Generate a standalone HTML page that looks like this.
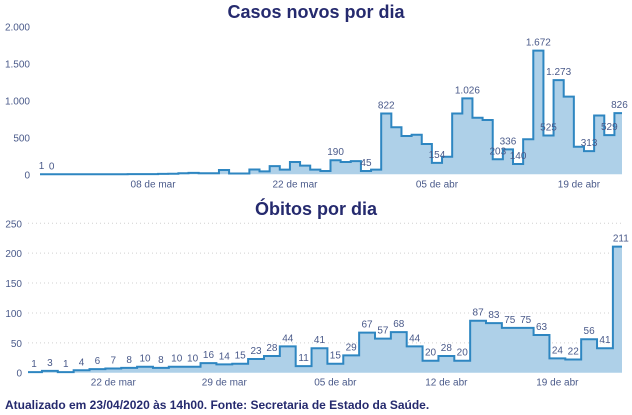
<!DOCTYPE html>
<html><head><meta charset="utf-8"><style>
html,body{margin:0;padding:0;background:#fff;}
svg{display:block;font-family:"Liberation Sans",sans-serif;}
</style></head><body>
<svg id="c" width="632" height="415" viewBox="0 0 632 415">
<defs>
<clipPath id="clipTop"><rect x="40" y="20" width="582" height="160"/></clipPath>
<clipPath id="clipBot"><rect x="28" y="215" width="594" height="160"/></clipPath>
</defs>
<text x="316" y="18" text-anchor="middle" font-size="18" font-weight="bold" fill="#252a6e">Casos novos por dia</text>
<text x="316" y="215" text-anchor="middle" font-size="18" font-weight="bold" fill="#252a6e">Óbitos por dia</text>
<text x="5" y="409" font-size="12" font-weight="bold" fill="#252a6e">Atualizado em 23/04/2020 às 14h00. Fonte: Secretaria de Estado da Saúde.</text>
<g id="top"></g>
<g id="bot"></g>
</svg>
<script>
// Casos novos por dia, 26 fev .. 23 abr
const caseValues = [1,0,0,0,0,0,0,0,0,2,3,3,5,8,15,20,15,15,58,10,10,65,40,110,63,167,117,63,45,190,167,178,45,63,
822,635,518,535,410,154,238,822,1026,765,733,203,336,140,473,1672,525,1273,1050,373,313,795,529,826];
const caseLabeled = [0,1,29,32,34,39,42,45,46,47,49,50,51,54,56,57];
const caseTickIdx = [11,25,39,53];
const caseTickLabels = ["08 de mar","22 de mar","05 de abr","19 de abr"];
const caseYTicks = [0,500,1000,1500,2000];
// Óbitos por dia, 17 mar .. 23 abr
const deathValues = [1,3,1,4,6,7,8,10,8,10,10,16,14,15,23,28,44,11,41,15,29,67,57,68,44,20,28,20,87,83,75,75,63,24,22,56,41,211];
const deathTickIdx = [5,12,19,26,33];
const deathTickLabels = ["22 de mar","29 de mar","05 de abr","12 de abr","19 de abr"];
const deathYTicks = [0,50,100,150,200,250];

const NS="http://www.w3.org/2000/svg";
function mk(tag,attrs,parent){const e=document.createElementNS(NS,tag);for(const k in attrs)e.setAttribute(k,attrs[k]);parent.appendChild(e);return e;}
function fmt(v){return v.toString().replace(/\B(?=(\d{3})+(?!\d))/g,".");}

function drawChart(g,vals,cfg){
  const x=i=>cfg.x0+i*cfg.dx, y=v=>cfg.y0-v*cfg.ky, w=cfg.dx/2;
  cfg.yTicks.forEach(t=>{
    if(cfg.grid && t>0){
      const gl=mk('line',{x1:cfg.left,x2:622,y1:y(t),y2:y(t),stroke:'#d0d0d0','stroke-dasharray':'1,3','stroke-width':1},g);
      
      
    }
    const tl=mk('text',{x:cfg.yLabelX,y:y(t)+4,'text-anchor':'end','font-size':10,fill:'#4a5a8a'},g);
    tl.textContent=fmt(t);
    
    
  });
  let d='', area='';
  vals.forEach((v,i)=>{
    const a=x(i)-w,b=x(i)+w;
    d+=(i===0?'M':'L')+a+','+y(v)+'L'+b+','+y(v);
  });
  area='M'+(x(0)-w)+','+cfg.y0+d.replace(/^M/,'L')+'L'+(x(vals.length-1)+w)+','+cfg.y0+'Z';
  const cg=mk('g',{'clip-path':'url(#'+cfg.clip+')'},g);
  const ar=mk('path',{d:area,fill:'#aed0e8'},cg);
  
  
  const ln=mk('path',{d:d,fill:'none',stroke:'#2e86c1','stroke-width':2},cg);
  
  
  cfg.ticks.forEach((ti,k)=>{
    const t=mk('text',{x:x(ti),y:cfg.y0+13,'text-anchor':'middle','font-size':10,fill:'#4a5a8a'},g);
    t.textContent=cfg.tickLabels[k];
    
    
  });
  vals.forEach((v,i)=>{
    if(cfg.labeled && cfg.labeled.indexOf(i)<0) return;
    const t=mk('text',{x:x(i),y:y(v)-5,'text-anchor':'middle','font-size':10,fill:'#4a5a8a'},g);
    t.textContent=fmt(v);
    
    
  });
}
drawChart(document.getElementById('top'),caseValues,{x0:41.5,dx:10.14,y0:174.3,ky:0.074,left:40,yLabelX:30,
  yTicks:caseYTicks,ticks:caseTickIdx,tickLabels:caseTickLabels,labeled:caseLabeled,clip:'clipTop',grid:false});
drawChart(document.getElementById('bot'),deathValues,{x0:34,dx:15.86,y0:372.7,ky:0.5976,left:28,yLabelX:22,
  yTicks:deathYTicks,ticks:deathTickIdx,tickLabels:deathTickLabels,labeled:null,clip:'clipBot',grid:true});
</script>
</body></html>
